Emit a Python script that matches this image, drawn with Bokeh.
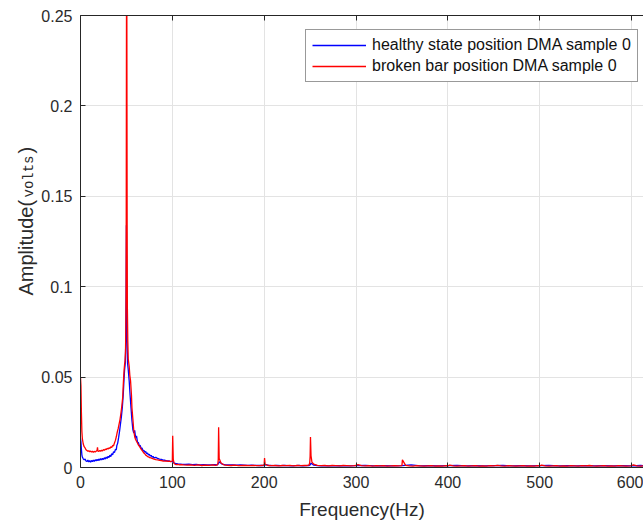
import math
from bokeh.plotting import figure
from bokeh.models import FixedTicker, LinearAxis, Range1d
from bokeh.layouts import row
from bokeh.core.properties import value
from bokeh.embed import file_html
from bokeh.resources import INLINE

# ---------------- data ----------------
x_ticks = [0, 100, 200, 300, 400, 500, 600]
y_ticks = [0, 0.05, 0.1, 0.15, 0.2, 0.25]
y_tick_labels = ["0", "0.05", "0.1", "0.15", "0.2", "0.25"]

healthy_label = "healthy state position DMA sample 0"
broken_label = "broken bar position DMA sample 0"

healthy_freq = [
    0, 0.5, 1, 1.5, 2, 3, 4, 5, 6, 7, 8, 9, 10, 11, 12, 13, 14, 15, 16, 17, 18, 19, 20,
    21, 22, 23, 24, 25, 26, 27, 28, 29, 30, 31, 32, 33, 34, 35, 36, 37, 38, 39, 39.5, 40.5,
    41.5, 42.5, 43.5, 44.5, 45.5, 46.5, 47.3, 48, 48.8, 49.3, 49.7, 50, 50.3, 50.7, 51.2,
    52, 53, 54, 55, 56, 57, 58, 59, 60, 61, 62, 63, 64, 65, 66, 67, 68, 69, 70, 71, 72, 73,
    74, 75, 76, 77, 78, 79, 80, 82, 84, 86, 88, 90, 92, 94, 96, 98, 100, 101,
    102, 104, 106, 108, 110, 114, 118, 122, 126, 130, 134, 138, 142, 146, 149, 150, 151, 154,
    158, 162, 166, 170, 174, 178, 182, 186, 190, 194, 198, 200, 202, 206, 210, 214, 218, 222,
    226, 230, 234, 238, 242, 246, 249, 250, 251, 254, 258, 262, 266, 270, 280, 290, 300, 310,
    320, 330, 340, 350, 360, 370, 380, 390, 400, 410, 420, 430, 440, 450, 460, 470, 480, 490,
    500, 510, 520, 530, 540, 550, 560, 570, 580, 590, 600, 610, 614,
]
healthy_amp = [
    0.016, 0.014, 0.010, 0.007, 0.0058, 0.0048, 0.0042, 0.0047, 0.0036, 0.0033, 0.0041, 0.0031,
    0.0038, 0.0030, 0.0039, 0.0033, 0.0041, 0.0034, 0.0043, 0.0036, 0.0045, 0.0038, 0.0047,
    0.0040, 0.0049, 0.0042, 0.0051, 0.0044, 0.0054, 0.0047, 0.0058, 0.0050, 0.0062, 0.0055,
    0.0068, 0.0060, 0.0076, 0.0070, 0.0088, 0.0082, 0.0100, 0.0098, 0.0120, 0.0135,
    0.0165, 0.0200, 0.0240, 0.0280, 0.0330, 0.0400, 0.0480, 0.0540, 0.0580, 0.0700, 0.1000,
    0.1340, 0.1000, 0.0700, 0.0580, 0.0540, 0.0480, 0.0400, 0.0330, 0.0260, 0.0210, 0.0190,
    0.0205, 0.0165, 0.0175, 0.0140, 0.0138, 0.0120, 0.0122, 0.0105, 0.0108, 0.0092, 0.0095,
    0.0084, 0.0088, 0.0076, 0.0080, 0.0069, 0.0073, 0.0063, 0.0067, 0.0057, 0.0061, 0.0053,
    0.0056, 0.0050, 0.0046, 0.0045, 0.0041, 0.0040, 0.0037, 0.0036, 0.0034, 0.0033, 0.0030,
    0.0024, 0.0022, 0.0020, 0.0019, 0.0018, 0.0017, 0.0018, 0.0016,
    0.0017, 0.0015, 0.0016, 0.0014, 0.0015, 0.0016, 0.0015, 0.0020, 0.0032, 0.0019, 0.0015,
    0.0014, 0.0015, 0.0013, 0.0014, 0.0013, 0.0012, 0.0013, 0.0012, 0.0011, 0.0012, 0.0011,
    0.0016, 0.0011, 0.0010, 0.0011, 0.0010, 0.0011, 0.0010, 0.0009, 0.0010, 0.0011, 0.0009,
    0.0010, 0.0011, 0.0014, 0.0024, 0.0013, 0.0010, 0.0009, 0.0010, 0.0009, 0.0010, 0.0009,
    0.0010, 0.0012, 0.0009, 0.0010, 0.0009, 0.0010, 0.0015, 0.0009, 0.0010, 0.0009, 0.0010,
    0.0011, 0.0009, 0.0010, 0.0009, 0.0010, 0.0011, 0.0009, 0.0010, 0.0009, 0.0010, 0.0011,
    0.0009, 0.0010, 0.0009, 0.0010, 0.0009, 0.0010, 0.0009, 0.0010, 0.0009, 0.0011, 0.0009,
    0.0010,
]

broken_freq = [
    0, 0.5, 1, 1.5, 2, 3, 4, 5, 6, 7, 8, 9, 10, 11, 12, 13, 14, 15, 16, 17, 18, 18.5, 19,
    20, 21, 22, 23, 24, 25, 26, 27, 28, 29, 30, 31, 32, 33, 34, 35, 36, 37, 38, 39, 40, 41,
    42, 43, 44, 45, 46, 46.5, 47, 47.5, 48, 48.5, 49, 49.3, 49.6, 49.8, 50, 50.2, 50.4, 50.6,
    50.8, 51, 51.5, 52, 53, 53.7, 54.5, 55.5, 56, 57, 58, 59, 60, 61, 62, 63, 64, 65,
    66, 67, 68, 69, 70, 71, 72, 73, 74, 75, 76, 78, 80, 82, 84, 86, 88, 90, 92, 94, 96, 97,
    98, 99, 99.6, 100, 100.4, 101, 102, 103, 104, 106, 108, 110, 112, 116, 120, 124, 128, 132,
    136, 140, 144, 147, 149, 149.6, 150, 150.4, 151, 153, 156, 160, 164, 168, 172, 176, 180,
    184, 188, 192, 196, 199, 199.6, 200, 200.4, 201, 204, 208, 212, 216, 220, 224, 228, 232,
    236, 240, 244, 247, 249, 249.6, 250, 250.4, 251, 252, 254, 258, 262, 266, 270, 274, 278,
    282, 286, 290, 294, 298, 300, 302, 306, 310, 314, 318, 322, 326, 330, 334, 338, 342, 346,
    349.5, 350, 350.5, 354, 358, 362, 366, 370, 374, 378, 382, 386, 390, 394, 398, 400, 402,
    406, 410, 414, 418, 422, 426, 430, 434, 438, 442, 446, 450, 454, 458, 462, 466, 470, 474,
    478, 482, 486, 490, 494, 498, 500, 502, 506, 510, 514, 518, 522, 526, 530, 534, 538, 542,
    546, 550, 554, 558, 562, 566, 570, 574, 578, 582, 586, 590, 594, 598, 600, 602, 606, 610,
    614,
]
broken_amp = [
    0.050, 0.045, 0.030, 0.020, 0.016, 0.013, 0.0115, 0.0108, 0.0098, 0.0094, 0.0090, 0.0093,
    0.0087, 0.0091, 0.0085, 0.0090, 0.0084, 0.0089, 0.0086, 0.0090, 0.0094, 0.0112, 0.0091,
    0.0089, 0.0094, 0.0090, 0.0096, 0.0092, 0.0099, 0.0095, 0.0102, 0.0099, 0.0106, 0.0102,
    0.0109, 0.0106, 0.0114, 0.0111, 0.0122, 0.0120, 0.0136, 0.0150, 0.0170, 0.0195, 0.0215,
    0.0240, 0.0265, 0.0300, 0.0340, 0.0390, 0.0450, 0.0500, 0.0540, 0.0570, 0.0590, 0.0640,
    0.0750, 0.0950, 0.1400, 0.2200, 0.3000, 0.2800, 0.2000, 0.1300, 0.0900, 0.0700, 0.0600,
    0.0560, 0.0510, 0.0480, 0.0400, 0.0330, 0.0270, 0.0205, 0.0170, 0.0155, 0.0145, 0.0136,
    0.0125, 0.0118, 0.0110, 0.0102, 0.0095, 0.0088, 0.0080, 0.0076, 0.0068, 0.0066, 0.0060,
    0.0059, 0.0055, 0.0054, 0.0050, 0.0047, 0.0044, 0.0042, 0.0040, 0.0038, 0.0036, 0.0035,
    0.0036, 0.0034, 0.0035, 0.0033, 0.0034, 0.0035, 0.0040, 0.0175, 0.0045, 0.0022, 0.0018,
    0.0016, 0.0017, 0.0015, 0.0016, 0.0014, 0.0013, 0.0015, 0.0012, 0.0014, 0.0011, 0.0013,
    0.0012, 0.0014, 0.0012, 0.0015, 0.0022, 0.0045, 0.0222, 0.0050, 0.0025, 0.0015, 0.0012,
    0.0011, 0.0013, 0.0010, 0.0012, 0.0011, 0.0010, 0.0012, 0.0010, 0.0011, 0.0012, 0.0014,
    0.0020, 0.0052, 0.0018, 0.0011, 0.0010, 0.0011, 0.0009, 0.0011, 0.0010, 0.0012, 0.0009,
    0.0011, 0.0010, 0.0012, 0.0011, 0.0015, 0.0028, 0.0060, 0.0168, 0.0065, 0.0030, 0.0018,
    0.0012, 0.0010, 0.0011, 0.0009, 0.0011, 0.0010, 0.0009, 0.0011, 0.0010, 0.0009, 0.0010,
    0.0011, 0.0016, 0.0010, 0.0009, 0.0010, 0.0008, 0.0010, 0.0009, 0.0010, 0.0008, 0.0009,
    0.0010, 0.0009, 0.0010, 0.0012, 0.0042, 0.0012, 0.0009, 0.0008, 0.0010, 0.0009, 0.0008,
    0.0009, 0.0010, 0.0008, 0.0009, 0.0008, 0.0010, 0.0009, 0.0013, 0.0009, 0.0008, 0.0009,
    0.0010, 0.0008, 0.0009, 0.0010, 0.0008, 0.0009, 0.0008, 0.0010, 0.0009, 0.0012, 0.0009,
    0.0008, 0.0010, 0.0009, 0.0008, 0.0009, 0.0010, 0.0008, 0.0009, 0.0008, 0.0010, 0.0009,
    0.0013, 0.0009, 0.0008, 0.0009, 0.0010, 0.0008, 0.0009, 0.0008, 0.0010, 0.0009, 0.0008,
    0.0010, 0.0009, 0.0011, 0.0009, 0.0008, 0.0009, 0.0010, 0.0008, 0.0009, 0.0008, 0.0010,
    0.0009, 0.0008, 0.0009, 0.0010, 0.0014, 0.0009, 0.0008, 0.0009, 0.0008,
]

x_label = "Frequency(Hz)"
y_label_parts = ["Amplitude(", "volts", ")"]

# ---------------- styling ----------------
FONT = "Liberation Sans"
TEXT_COL = "#2b2b2b"
AXIS_COL = "#262626"
GRID_COL = "#e3e3e3"
LEFT_STRIP = 38
W, H = 643, 525
TOP_B, BOT_B = 15, 58

# ---------------- main plot ----------------
p = figure(
    width=W - LEFT_STRIP, height=H,
    x_range=Range1d(0, 613), y_range=Range1d(0, 0.25),
    output_backend="svg", toolbar_location=None,
    min_border_left=80 - LEFT_STRIP, min_border_right=0, min_border_top=TOP_B,
    min_border_bottom=BOT_B,
    background_fill_color="white", border_fill_color="white",
)
p.outline_line_color = None

xt = FixedTicker(ticks=x_ticks)
yt = FixedTicker(ticks=y_ticks)

for ax in (p.xaxis[0], p.yaxis[0]):
    ax.axis_line_color = AXIS_COL
    ax.major_tick_line_color = AXIS_COL
    ax.major_tick_in = 5
    ax.major_tick_out = 0
    ax.minor_tick_line_color = None
    ax.major_label_text_font = FONT
    ax.major_label_text_font_size = "16px"
    ax.major_label_text_color = TEXT_COL
    ax.major_label_standoff = 8

p.xaxis[0].ticker = xt
p.yaxis[0].ticker = yt
p.yaxis[0].major_label_overrides = {t: s for t, s in zip(y_ticks, y_tick_labels)}
p.xaxis[0].axis_label = x_label
p.xaxis[0].axis_label_text_font = FONT
p.xaxis[0].axis_label_text_font_size = "19px"
p.xaxis[0].axis_label_text_font_style = "normal"
p.xaxis[0].axis_label_text_color = TEXT_COL
p.xaxis[0].axis_label_standoff = 8

top = LinearAxis(ticker=xt)
top.axis_line_color = AXIS_COL
top.major_tick_line_color = AXIS_COL
top.major_tick_in = 5
top.major_tick_out = 0
top.minor_tick_line_color = None
top.major_label_text_font_size = "0px"
top.major_label_text_alpha = 0
top.major_label_standoff = 0
p.add_layout(top, "above")

p.xgrid.ticker = xt
p.ygrid.ticker = yt
p.xgrid.grid_line_color = GRID_COL
p.ygrid.grid_line_color = GRID_COL

p.line(healthy_freq, healthy_amp, line_color="#0000ff", line_width=1.3, legend_label=healthy_label)
p.line(broken_freq, broken_amp, line_color="#ff0000", line_width=1.3, legend_label=broken_label)

lg = p.legend[0]
lg.location = (225, 385)
lg.label_text_font = FONT
lg.label_text_font_size = "16px"
lg.label_text_color = "#111111"
lg.glyph_width = 54
lg.glyph_height = 18
lg.label_height = 18
lg.spacing = 3
lg.padding = 6
lg.margin = 0
lg.label_standoff = 6
lg.border_line_color = "#333333"
lg.border_line_width = 1
lg.background_fill_color = "white"
lg.background_fill_alpha = 1

# ---------------- y-axis title strip (mixed fonts, like the original) ----------------
# Its frame spans the same rows as the main frame; the y range is expressed in
# pixels measured from the bottom of the page.
ys = figure(
    width=LEFT_STRIP, height=H,
    x_range=Range1d(0, LEFT_STRIP), y_range=Range1d(BOT_B, H - TOP_B),
    output_backend="svg", toolbar_location=None,
    min_border_left=0, min_border_right=0, min_border_top=TOP_B, min_border_bottom=BOT_B,
    background_fill_color="white", border_fill_color="white",
)
ys.axis.visible = False
ys.grid.visible = False
ys.outline_line_color = None

ylab_fonts = ["Liberation Sans", "Liberation Mono", "Liberation Sans"]
ylab_sizes = ["20px", "14px", "20px"]
ylab_x = [25, 28, 25]
ylab_start = [230, 328, 372]   # distance from the bottom of the page, px
for txt, fnt, sz, xx, yy in zip(y_label_parts, ylab_fonts, ylab_sizes, ylab_x, ylab_start):
    ys.text(x=[xx], y=[yy], text=[txt], angle=math.pi / 2,
            text_font=value(fnt), text_font_size=sz, text_color=TEXT_COL,
            text_align="left", text_baseline="middle")

layout = row(ys, p)
open("out.html", "w").write(file_html(layout, INLINE))
